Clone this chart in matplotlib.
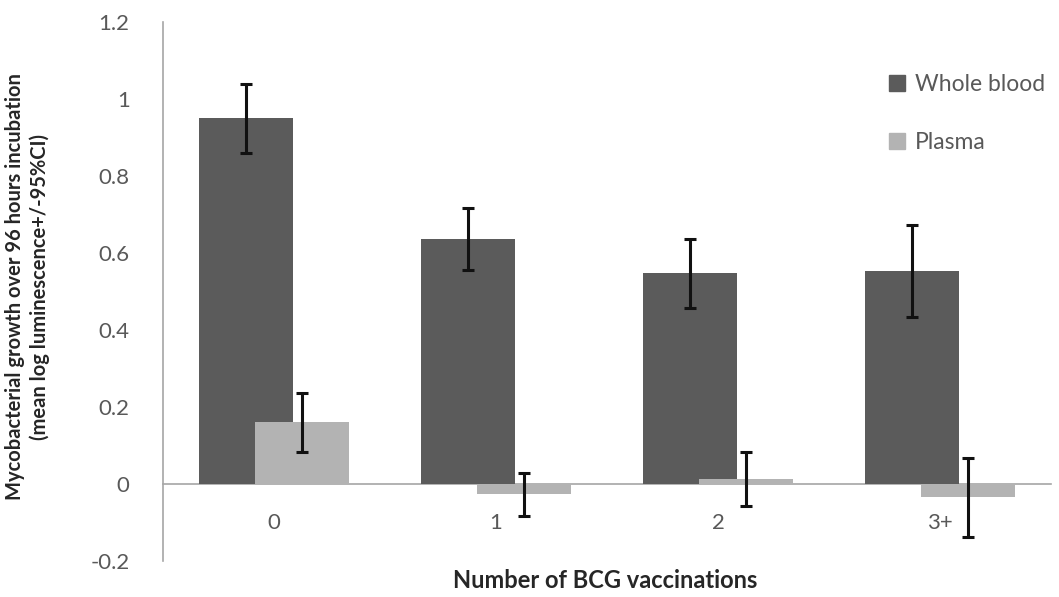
import numpy as np
import matplotlib
matplotlib.use("Agg")
import matplotlib.pyplot as plt
from matplotlib.patches import Patch

# Data
categories = ["0", "1", "2", "3+"]
whole_blood = [0.950, 0.637, 0.547, 0.553]
whole_blood_ci = [0.090, 0.081, 0.089, 0.119]
plasma = [0.160, -0.027, 0.014, -0.035]
plasma_ci = [0.076, 0.056, 0.070, 0.102]

_DARK = "#5b5b5b"
_LIGHT = "#b3b3b3"
_TEXT = "#595959"
_TITLE = "#262626"

plt.rcParams["font.family"] = ["Lato", "DejaVu Sans"]

fig = plt.figure(figsize=(10.59, 5.97), dpi=100)
ax = fig.add_axes([0.1539, 0.0603, 0.8385, 0.9028])

x = np.arange(len(categories))
width = 0.42
offset = 0.126

err_kw = dict(ecolor="#111111", elinewidth=2.2, capsize=4.5, capthick=2.2)
ax.bar(x - offset, whole_blood, width, color=_DARK, yerr=whole_blood_ci,
       error_kw=err_kw, zorder=2)
ax.bar(x + offset, plasma, width, color=_LIGHT, yerr=plasma_ci,
       error_kw=err_kw, zorder=3)

ax.set_xlim(-0.5, len(categories) - 0.5)
ax.set_ylim(-0.2, 1.2)
ax.set_yticks(np.arange(-0.2, 1.21, 0.2))
ax.set_yticklabels(["-0.2", "0", "0.2", "0.4", "0.6", "0.8", "1", "1.2"])
ax.set_xticks(x)
ax.set_xticklabels(categories)

for side in ("top", "right"):
    ax.spines[side].set_visible(False)
ax.spines["left"].set_color("#a6a6a6")
ax.spines["left"].set_linewidth(1.2)
ax.spines["bottom"].set_position(("data", 0))
ax.spines["bottom"].set_color("#a6a6a6")
ax.spines["bottom"].set_linewidth(1.2)
ax.spines["bottom"].set_zorder(1)

ax.tick_params(axis="y", length=0, pad=24, labelsize=16, labelcolor=_TEXT)
ax.tick_params(axis="x", length=0, pad=21, labelsize=16, labelcolor=_TEXT)

fig.text(0.571, 0.028, "Number of BCG vaccinations", ha="center", va="center",
         fontsize=17, fontweight="bold", color=_TITLE)
fig.text(0.026, 0.52, "Mycobacterial growth over 96 hours incubation\n(mean log luminescence+/-95%CI)",
         ha="center", va="center", rotation=90, fontsize=14.5, fontweight="bold",
         color=_TITLE, linespacing=1.25)

handles = [Patch(color=_DARK), Patch(color=_LIGHT)]
fig.legend(handles, ["Whole blood", "Plasma"], loc="upper left",
           bbox_to_anchor=(0.82, 0.91), frameon=False, fontsize=16.5,
           labelcolor=_TEXT, handlelength=0.7, handleheight=0.7,
           handletextpad=0.45, labelspacing=1.6)

fig.savefig("out.png", dpi=100, facecolor="white")
